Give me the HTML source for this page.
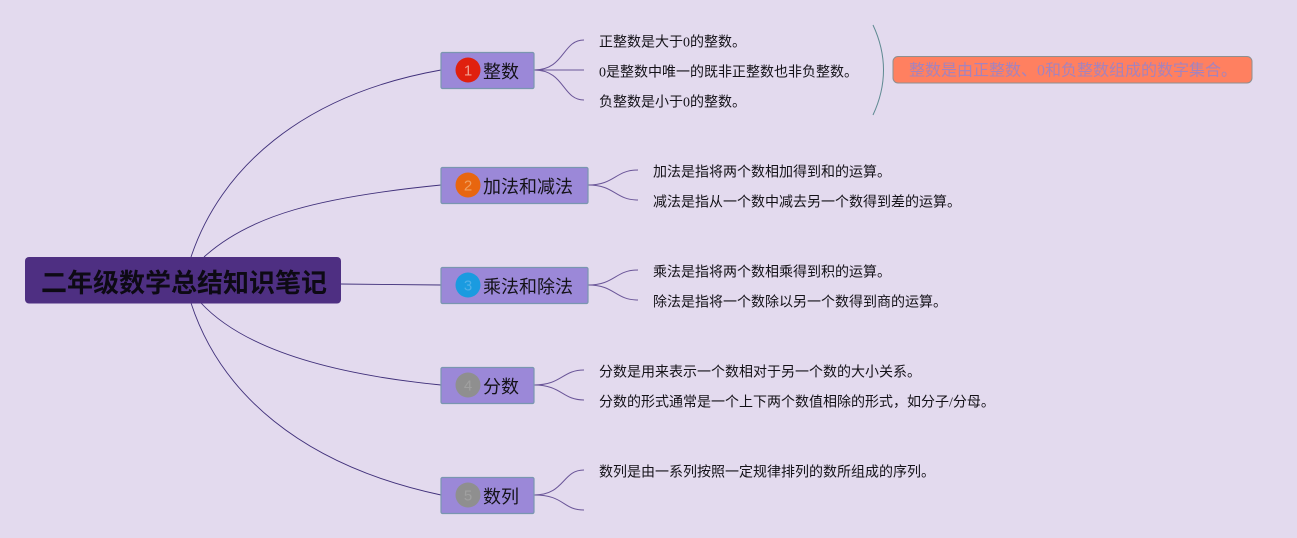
<!DOCTYPE html>
<html lang="zh">
<head>
<meta charset="utf-8">
<style>
html,body{margin:0;padding:0;background:#e3daee;}
svg{display:block;}
text{font-family:"Liberation Sans","Noto Sans CJK SC",sans-serif;}
.leaf{font-family:"Liberation Serif","Noto Sans CJK SC",sans-serif;font-size:14px;fill:#141218;}
.node{font-size:18px;fill:#141218;}
.num{font-size:15px;text-anchor:middle;}
.box{fill:#9b88d8;stroke:#7a96b0;stroke-width:1.2;}
.main{fill:none;stroke:#40307a;stroke-width:.9;}
.sub{fill:none;stroke:#6a5598;stroke-width:1;}
</style>
</head>
<body>
<svg width="1297" height="538" viewBox="0 0 1297 538" xmlns="http://www.w3.org/2000/svg">
<rect width="1297" height="538" fill="#e3daee"/>

<path class="main" d="M191 257C220 170 300 95 441 70"/>
<path class="main" d="M204 257C250 215 320 197 441 185"/>
<path class="main" d="M340 284L441 285"/>
<path class="main" d="M201 303C240 345 320 373 441 385"/>
<path class="main" d="M191 303C220 392 300 465 441 495"/>

<path class="sub" d="M534 70C565 70 562 40 584 40"/>
<path class="sub" d="M534 70L584 70"/>
<path class="sub" d="M534 70C565 70 562 100 584 100"/>
<path class="sub" d="M588 185C615 185 615 170 638 170"/>
<path class="sub" d="M588 185C615 185 615 200 638 200"/>
<path class="sub" d="M588 285C615 285 615 270 638 270"/>
<path class="sub" d="M588 285C615 285 615 300 638 300"/>
<path class="sub" d="M534 385C562 385 562 370 584 370"/>
<path class="sub" d="M534 385C562 385 562 400 584 400"/>
<path class="sub" d="M534 495C565 495 562 470 584 470"/>
<path class="sub" d="M534 495C565 495 562 510 584 510"/>

<path d="M873 25Q894 70 873 115" fill="none" stroke="#5f8a92" stroke-width="1"/>

<rect x="25" y="257" width="316" height="46.500" rx="4" fill="#4e2f82"/>
<text x="41" y="292" fill="#0d0a14" font-weight="700" style="font-size:26px">二年级数学总结知识笔记</text>

<rect class="box" x="441" y="52.500" width="93" height="36" rx="1.500"/>
<circle cx="468" cy="70" r="12.500" fill="#e0200e"/>
<text class="num" x="468" y="75.500" fill="#f0a090">1</text>
<text class="node" x="483" y="78">整数</text>

<rect class="box" x="441" y="167.500" width="147" height="36" rx="1.500"/>
<circle cx="468" cy="185" r="12.500" fill="#e8660f"/>
<text class="num" x="468" y="190.500" fill="#f0a060">2</text>
<text class="node" x="483" y="193">加法和减法</text>

<rect class="box" x="441" y="267.500" width="147" height="36" rx="1.500"/>
<circle cx="468" cy="285" r="12.500" fill="#1a9be0"/>
<text class="num" x="468" y="290.500" fill="#50b0e8">3</text>
<text class="node" x="483" y="293">乘法和除法</text>

<rect class="box" x="441" y="367.500" width="93" height="36" rx="1.500"/>
<circle cx="468" cy="385" r="12.500" fill="#8f8f8f"/>
<text class="num" x="468" y="390.500" fill="#a0a0a0">4</text>
<text class="node" x="483" y="393">分数</text>

<rect class="box" x="441" y="477.500" width="93" height="36" rx="1.500"/>
<circle cx="468" cy="495" r="12.500" fill="#8f8f8f"/>
<text class="num" x="468" y="500.500" fill="#a0a0a0">5</text>
<text class="node" x="483" y="503">数列</text>

<text class="leaf" x="599" y="46.500">正整数是大于0的整数。</text>
<text class="leaf" x="599" y="76.500">0是整数中唯一的既非正整数也非负整数。</text>
<text class="leaf" x="599" y="106.500">负整数是小于0的整数。</text>
<text class="leaf" x="653" y="176.500">加法是指将两个数相加得到和的运算。</text>
<text class="leaf" x="653" y="206.500">减法是指从一个数中减去另一个数得到差的运算。</text>
<text class="leaf" x="653" y="276.500">乘法是指将两个数相乘得到积的运算。</text>
<text class="leaf" x="653" y="306.500">除法是指将一个数除以另一个数得到商的运算。</text>
<text class="leaf" x="599" y="376.500">分数是用来表示一个数相对于另一个数的大小关系。</text>
<text class="leaf" x="599" y="406.500">分数的形式通常是一个上下两个数值相除的形式，如分子/分母。</text>
<text class="leaf" x="599" y="476.500">数列是由一系列按照一定规律排列的数所组成的序列。</text>

<rect x="893" y="56.500" width="359" height="26.500" rx="5" fill="#ff8060" stroke="#8f8f8f" stroke-width="1"/>
<text x="909" y="75.500" fill="#a583bd" style="font-family:'Liberation Serif','Noto Sans CJK SC',sans-serif;font-size:16px">整数是由正整数、0和负整数组成的数字集合。</text>
</svg>
</body>
</html>
